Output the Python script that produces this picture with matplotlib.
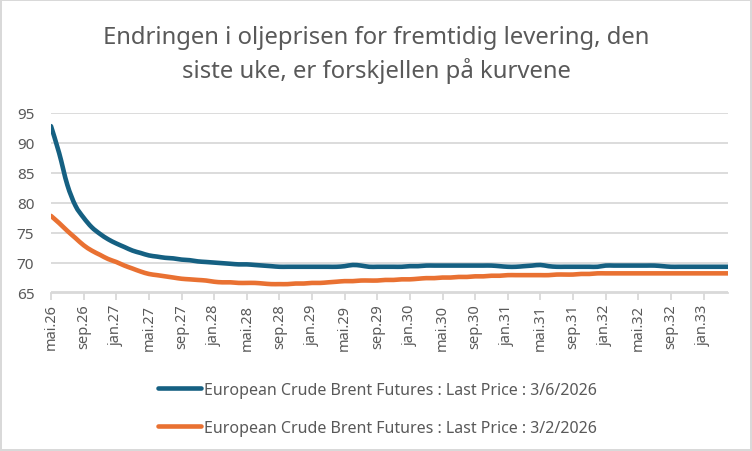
import matplotlib
matplotlib.use("Agg")
import matplotlib.pyplot as plt
from matplotlib.path import Path
from matplotlib.patches import PathPatch
from matplotlib.lines import Line2D
import pandas as pd

plt.rcParams['font.family'] = ['Noto Sans', 'DejaVu Sans']

# months mai.26 .. apr.33
maaneder = ['jan', 'feb', 'mar', 'apr', 'mai', 'jun', 'jul', 'aug', 'sep', 'okt', 'nov', 'des']
datoer = pd.date_range('2026-05-01', '2033-04-01', freq='MS')
kategorier = [f"{maaneder[d.month - 1]}.{d.year % 100:02d}" for d in datoer]

pris_0603 = [92.8, 88.3, 83.0, 79.5, 77.5, 75.9, 74.8, 73.9, 73.2, 72.6, 72.0, 71.6,
             71.2, 71.0, 70.8, 70.7, 70.5, 70.4, 70.2, 70.1, 70.0, 69.9, 69.8, 69.7,
             69.7, 69.6, 69.5, 69.4, 69.3, 69.3, 69.3, 69.3, 69.3, 69.3, 69.3, 69.3,
             69.4, 69.6, 69.5, 69.3, 69.3, 69.3, 69.3, 69.3, 69.4, 69.4, 69.5, 69.5,
             69.5, 69.5, 69.5, 69.5, 69.5, 69.5, 69.5, 69.4, 69.3, 69.3, 69.4, 69.5,
             69.6, 69.4, 69.3, 69.3, 69.3, 69.3, 69.3, 69.3, 69.5, 69.5, 69.5, 69.5,
             69.5, 69.5, 69.5, 69.4, 69.3, 69.3, 69.3, 69.3, 69.3, 69.3, 69.3, 69.3]

pris_0203 = [77.8, 76.6, 75.3, 74.1, 72.9, 72.0, 71.3, 70.6, 70.1, 69.5, 69.0, 68.5,
             68.1, 67.9, 67.7, 67.5, 67.3, 67.2, 67.1, 67.0, 66.8, 66.7, 66.7, 66.6,
             66.6, 66.6, 66.5, 66.4, 66.4, 66.4, 66.5, 66.5, 66.6, 66.6, 66.7, 66.8,
             66.9, 66.9, 67.0, 67.0, 67.0, 67.1, 67.1, 67.2, 67.2, 67.3, 67.4, 67.4,
             67.5, 67.5, 67.6, 67.6, 67.7, 67.7, 67.8, 67.8, 67.9, 67.9, 67.9, 67.9,
             67.9, 67.9, 68.0, 68.0, 68.0, 68.1, 68.1, 68.2, 68.2, 68.2, 68.2, 68.2,
             68.2, 68.2, 68.2, 68.2, 68.2, 68.2, 68.2, 68.2, 68.2, 68.2, 68.2, 68.2]

serier = ['European Crude Brent Futures : Last Price : 3/6/2026',
          'European Crude Brent Futures : Last Price : 3/2/2026']
farger = ['#156082', '#E97132']
y_ticks = [65, 70, 75, 80, 85, 90, 95]

tekst = '#595959'
grid = '#d9d9d9'


def glatt_sti(xs, ys):
    # Excel-like smoothed line: cubic bezier through the points
    pts = list(zip(xs, ys))
    n = len(pts)
    verts = [pts[0]]
    codes = [Path.MOVETO]
    for i in range(n - 1):
        p0 = pts[max(i - 1, 0)]
        p1 = pts[i]
        p2 = pts[i + 1]
        p3 = pts[min(i + 2, n - 1)]
        c1 = (p1[0] + (p2[0] - p0[0]) / 6, p1[1] + (p2[1] - p0[1]) / 6)
        c2 = (p2[0] - (p3[0] - p1[0]) / 6, p2[1] - (p3[1] - p1[1]) / 6)
        verts += [c1, c2, p2]
        codes += [Path.CURVE4] * 3
    return Path(verts, codes)


fig = plt.figure(figsize=(7.52, 4.52), dpi=100)
fig.patch.set_edgecolor(grid)
fig.patch.set_linewidth(1.5)
ax = fig.add_axes([51 / 752, 1 - 293.5 / 452, (728 - 51) / 752, (293.5 - 114) / 452])

x = list(range(len(kategorier)))
handles = []
for verdier, navn, farge in zip([pris_0603, pris_0203], serier, farger):
    ax.add_patch(PathPatch(glatt_sti(x, verdier), facecolor='none', edgecolor=farge,
                           lw=3.3, capstyle='round', joinstyle='round', zorder=3))
    handles.append(Line2D([], [], color=farge, lw=3.3, solid_capstyle='round', label=navn))

ax.set_xlim(0, len(kategorier) - 1)
ax.set_ylim(65, 95)
ax.set_yticks(y_ticks)
ax.set_yticklabels([str(v) for v in y_ticks], fontsize=11, color=tekst)
ax.yaxis.grid(True, color=grid, lw=1.3)
ax.set_axisbelow(True)
ax.tick_params(axis='y', length=0, pad=12)

ax.set_xticks(x[::4])
ax.set_xticklabels(kategorier[::4], rotation=90, fontsize=10.5, color=tekst)
ax.tick_params(axis='x', length=5, width=1.3, color=grid, pad=3, direction='out')

for s in ['top', 'right', 'left']:
    ax.spines[s].set_visible(False)
ax.spines['bottom'].set_color(grid)
ax.spines['bottom'].set_linewidth(1.3)

fig.text(0.5, 1 - 55 / 452,
         'Endringen i oljeprisen for fremtidig levering, den\nsiste uke, er forskjellen på kurvene',
         ha='center', va='center', fontsize=17.2, color=tekst, linespacing=1.38)

fig.legend(handles=handles, loc='upper left', bbox_to_anchor=(158 / 752, 1 - 383 / 452),
           frameon=False, fontsize=11.5, labelcolor=tekst, handlelength=2.7,
           handletextpad=0.2, labelspacing=1.35, borderaxespad=0, borderpad=0)

fig.savefig('out.png', dpi=100)
